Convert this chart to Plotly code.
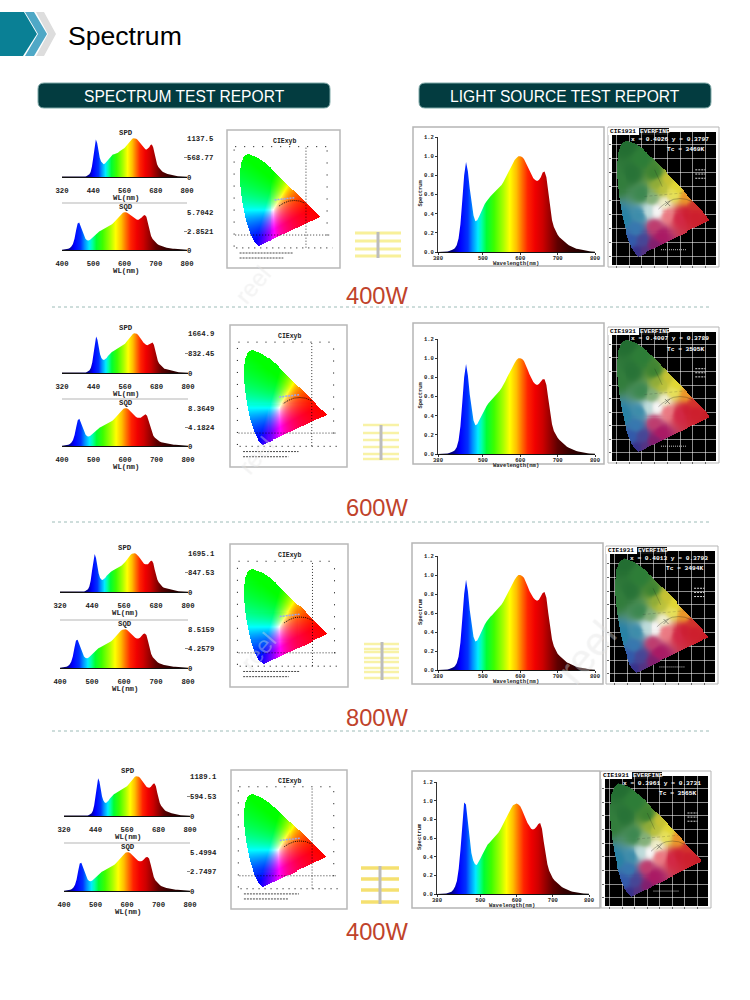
import numpy as np
import plotly.graph_objects as go

W, H = 750, 1000

# ---------- data ----------
CAPTIONS = ["400W", "600W", "800W", "400W"]
SPD_TICKS = [["1137.5", "568.77", "0"], ["1664.9", "832.45", "0"], ["1695.1", "847.53", "0"], ["1189.1", "594.53", "0"]]
SQD_TICKS = [["5.7042", "2.8521", "0"], ["8.3649", "4.1824", "0"], ["8.5159", "4.2579", "0"], ["5.4994", "2.7497", "0"]]
SPD_X_TICKS = [320, 440, 560, 680, 800]
SQD_X_TICKS = [400, 500, 600, 700, 800]
BIG_X_TICKS = [380, 500, 600, 700, 800]
BIG_Y_TICKS = [0.0, 0.2, 0.4, 0.6, 0.8, 1.0, 1.2]
XY_TEXT = ["x = 0.4026 y = 0.3797", "x = 0.4007 y = 0.3789", "x = 0.4013 y = 0.3793", "x = 0.3961 y = 0.3731"]
TC_TEXT = ["Tc = 3469K", "Tc = 3505K", "Tc = 3494K", "Tc = 3565K"]

# SPD: 320..800 nm every 5 nm, percent of the top tick
SPD1 = [1,1,1,1,1,1,.5,.5,.3,.3,.3,.3,.3,.3,
        .3,.5,.7,1,1.5,2.5,4,7,13,27,
        50,80,97,88,68,50,40,35,33,35,
        39,44,48,52,55,58,59,60,61,63,
        66,68,70,72,75,79,83,88,92,96,
        99,100,100,99,96,92,87,82,78,74,
        72,71,73,77,83,84,77,60,44,33,
        26,21,17,14,12,10,9,8,7,6,
        5,4,3.5,3,2.5,2,1.5,1.2,1,.8,
        .6,.5,.4]
SPD2 = [1,1,1,1,1,1,.5,.5,.3,.3,.3,.3,.3,.3,
        .3,.5,.7,1,1.5,2.5,4,7,13,26,
        48,76,92,84,64,47,38,34,33,35,
        38,43,47,50,53,55,57,58,60,62,
        64,66,68,71,74,78,82,87,91,95,
        98,100,100,99,96,92,87,82,77,73,
        71,70,72,74,77,77,71,57,42,31,
        24,20,16,13,11,10,9,8,7,6,
        5,4,3.5,3,2.5,2,1.5,1.2,1,.8,
        .6,.5,.4]
SPD3 = [1,1,1,1,1,1,.5,.5,.3,.3,.3,.3,.3,.3,
        .3,.5,.7,1,1.5,2.5,4,7,14,29,
        54,84,98,88,66,48,37,32,31,33,
        37,42,46,50,52,54,56,57,58,60,
        63,65,68,71,74,78,83,88,92,96,
        99,100,100,99,96,92,87,82,77,73,
        72,71,72,76,80,81,74,58,43,32,
        25,20,16,13,11,10,9,8,7,6,
        5,4,3.5,3,2.5,2,1.5,1.2,1,.8,
        .6,.5,.4]
SPD4 = [1,1,1,1,1,1,.5,.5,.3,.3,.3,.3,.3,.3,
        .3,.5,.7,1,1.5,2.5,4,7,13,27,
        50,79,95,87,67,49,39,34,33,35,
        39,44,48,52,55,57,59,60,61,63,
        65,68,70,72,75,79,83,88,92,96,
        99,100,100,99,96,92,87,82,77,73,
        72,71,73,77,81,82,75,59,44,33,
        26,21,17,14,12,10,9,8,7,6,
        5,4,3.5,3,2.5,2,1.5,1.2,1,.8,
        .6,.5,.4]

# SQD: 400..800 nm every 5 nm, percent of the top tick
SQD1 = [.5,.7,1,1.5,3,5,9,16,30,52,
        70,73,62,48,38,30,26,25,27,31,
        35,39,43,47,50,52,54,56,58,60,
        62,65,68,72,77,82,87,92,96,99,
        100,100,98,95,91,87,84,81,80,80,
        82,86,91,93,88,72,52,37,29,24,
        19,16,13,11,9,8,7,6,5,4.5,
        4,3.5,3,2.5,2,1.7,1.4,1.1,.9,.7,
        .5]
SQD2 = [.5,.7,1,1.5,3,5,9,16,29,50,
        68,72,61,47,37,30,26,25,27,31,
        35,39,43,46,49,51,53,55,57,59,
        61,64,67,71,76,81,86,91,95,99,
        100,100,98,94,89,84,80,77,75,74,
        75,78,82,84,80,66,48,35,27,22,
        18,15,12,10,9,8,7,6,5,4.5,
        4,3.5,3,2.5,2,1.7,1.4,1.1,.9,.7,
        .5]
SQD3 = [.5,.7,1,1.5,3,5,9,16,30,52,
        71,73,62,47,37,30,26,25,27,31,
        36,40,44,48,51,53,55,57,59,61,
        63,66,69,73,78,83,88,92,96,99,
        100,100,98,94,89,85,81,78,76,76,
        78,83,88,89,85,70,50,36,28,23,
        18,15,12,10,9,8,7,6,5,4.5,
        4,3.5,3,2.5,2,1.7,1.4,1.1,.9,.7,
        .5]
SQD4 = [.5,.7,1,1.5,3,5,9,16,30,52,
        71,73,62,48,38,30,26,25,27,31,
        35,39,43,47,50,52,54,56,58,60,
        62,65,68,72,77,82,87,92,96,99,
        100,100,98,94,90,85,81,78,77,77,
        79,83,87,88,84,69,50,36,28,23,
        18,15,12,10,9,8,7,6,5,4.5,
        4,3.5,3,2.5,2,1.7,1.4,1.1,.9,.7,
        .5]

# big spectrum: 380..800 nm every 5 nm
BIG1 = [0,0,0,0,.002,.005,.01,.015,.025,.04,
        .07,.14,.29,.54,.8,.94,.84,.66,.5,.38,
        .32,.33,.37,.42,.46,.5,.53,.56,.58,.6,
        .62,.63,.65,.67,.7,.73,.77,.81,.85,.89,
        .93,.96,.98,1,1,.99,.97,.93,.88,.84,
        .8,.77,.75,.74,.75,.78,.83,.84,.78,.62,
        .45,.33,.26,.21,.18,.155,.135,.115,.1,.085,
        .07,.06,.05,.04,.035,.03,.025,.02,.015,.012,
        .01,.008,.006,.004,.002]
BIG2 = [0,0,0,0,.002,.005,.01,.015,.025,.04,
        .07,.14,.29,.54,.8,.94,.82,.62,.46,.35,
        .3,.31,.35,.39,.43,.47,.5,.53,.55,.57,
        .59,.61,.63,.66,.69,.72,.76,.8,.84,.88,
        .92,.95,.98,1,1,.99,.97,.93,.88,.83,
        .78,.75,.73,.72,.73,.75,.78,.78,.72,.58,
        .42,.31,.24,.2,.17,.145,.125,.105,.09,.075,
        .065,.055,.045,.04,.03,.025,.02,.015,.012,.01,
        .008,.006,.004,.003,.002]
BIG3 = [0,0,0,0,.002,.005,.01,.015,.025,.04,
        .07,.14,.29,.54,.8,.95,.83,.63,.46,.35,
        .3,.31,.35,.4,.44,.48,.51,.54,.56,.58,
        .6,.62,.64,.66,.69,.72,.76,.8,.84,.88,
        .92,.95,.98,1,1,.99,.97,.93,.88,.83,
        .79,.76,.74,.73,.74,.77,.81,.82,.76,.6,
        .43,.32,.25,.2,.17,.15,.13,.11,.095,.08,
        .07,.06,.05,.04,.035,.03,.025,.02,.015,.012,
        .01,.008,.006,.004,.002]
BIG4 = [0,0,0,0,.002,.005,.01,.015,.025,.045,
        .08,.14,.27,.48,.76,.98,.96,.78,.58,.44,
        .36,.32,.31,.34,.38,.42,.46,.5,.53,.55,
        .57,.59,.61,.63,.66,.69,.73,.77,.81,.85,
        .89,.92,.95,.96,.97,.96,.94,.9,.85,.8,
        .76,.73,.7,.69,.7,.72,.75,.76,.7,.56,
        .42,.32,.25,.2,.17,.145,.125,.105,.09,.075,
        .065,.055,.045,.04,.03,.025,.02,.015,.012,.01,
        .008,.006,.004,.003,.002]

# CIE 1931 spectral locus
LOCUS_X = [.1741,.1714,.1689,.1644,.1566,.1440,.1241,.0913,.0687,.0454,.0235,.0082,.0039,.0139,.0389,.0743,.1547,.2296,.3016,.3731,.4441,.5125,.5752,.6270,.6658,.6915,.7079,.7190,.7260,.7347]
LOCUS_Y = [.0050,.0051,.0069,.0109,.0177,.0297,.0578,.1327,.2007,.2950,.4127,.5384,.6548,.7502,.8120,.8338,.8059,.7543,.6923,.6245,.5547,.4866,.4242,.3725,.3340,.3083,.2920,.2809,.2740,.2653]
PLANCK_X = [.33,.36,.40,.45,.50,.55,.60]
PLANCK_Y = [.34,.365,.39,.41,.415,.41,.39]
MEASURED_X = [.4026, .4007, .4013, .3961]
MEASURED_Y = [.3797, .3789, .3793, .3731]

# colours of the dark diagram, sampled at chromaticity points
TONE_X = [.08,.20,.02,.30,.33,.36,.40,.45,.47,.55,.62,.72,.50,.55,.62,.35,.30,.22,.20,.16,.12,.06,.18,.32,.38,.28,.25,.40,.30,.20,.12,.15]
TONE_Y = [.80,.70,.55,.60,.52,.50,.55,.45,.50,.43,.36,.27,.28,.30,.30,.15,.08,.03,.12,.03,.12,.27,.30,.33,.38,.42,.33,.30,.22,.45,.60,.20]
TONE_R = [35,45,50,60,140,190,200,230,225,235,210,200,210,205,205,170,130,85,70,55,50,40,60,248,240,130,190,235,190,60,40,55]
TONE_G = [110,125,125,130,170,195,195,225,215,150,50,30,40,30,30,25,30,50,70,50,90,130,140,248,240,175,220,120,60,135,115,120]
TONE_B = [50,55,60,50,55,60,50,90,50,40,45,40,70,50,45,100,110,130,150,140,170,165,170,248,205,120,220,130,110,80,55,175]

# spectrum colour stops (style)
STOP_NM = [320,380,400,420,440,460,472,487,497,510,530,555,572,590,605,620,640,660,680,700,730,800]
STOP_R = [10,10,5,0,0,0,0,0,0,0,60,170,255,255,255,255,240,205,150,95,55,15]
STOP_G = [0,0,0,0,0,50,140,235,255,255,255,255,255,190,110,35,0,0,0,0,0,0]
STOP_B = [30,50,90,130,255,255,255,255,170,50,0,0,0,0,0,0,0,0,0,0,0,0]

# ---------- geometry (pixels) ----------
SMALL = [dict(x0=62, x1=187, spd=(138, 177), sep=203, sqd=(212, 250)),
         dict(x0=62, x1=188, spd=(333, 373), sep=399, sqd=(408, 446)),
         dict(x0=60, x1=188, spd=(553, 592), sep=620, sqd=(629, 668)),
         dict(x0=64, x1=190, spd=(776, 816), sep=843, sqd=(852, 891))]
BIG_FRAME = [(413, 127, 604, 266), (413, 323, 604, 464), (412, 543, 603, 684), (412, 771, 600, 908)]
BIG_PLOT = [(438, 595, 137, 252), (438, 595, 339, 454), (438, 595, 556, 670), (437, 589, 782, 894)]
CIE_FRAME = [(227, 130, 340, 268), (230, 325, 347, 467), (230, 544, 348, 687), (231, 770, 347, 909)]
DARK_FRAME = [(608, 127, 719, 267), (608, 327, 719, 463), (606, 546, 718, 684), (601, 771, 711, 908)]
CAPTION_Y = [296, 508, 718, 932]
DIVIDER_Y = [307, 522, 731]
LAMPS = [dict(x=(355, 401), y=[233, 241, 249, 256], h=3, c="#f8f09a", bar=(378, 232, 258)),
         dict(x=(363, 399), y=[425, 433, 440, 447, 454, 459], h=2.5, c="#f8f2a6", bar=(381, 425, 460)),
         dict(x=(364, 399), y=[644, 649, 652, 658, 662, 668, 672, 678], h=2.5, c="#f8f2a6", bar=(382, 642, 680)),
         dict(x=(361, 399), y=[868, 879, 890, 902], h=3.5, c="#f5e070", bar=(380, 866, 904))]


def fx(p):
    return p / W


def fy(p):
    return 1 - p / H


shapes, annos = [], []
layout_axes = {}
traces = []
axis_n = 0


def new_axes(x0, x1, ytop, ybot, xkw, ykw):
    global axis_n
    axis_n += 1
    n = axis_n
    sfx = "" if n == 1 else str(n)
    base = dict(showgrid=False, zeroline=False, showline=False, ticks="", showticklabels=False, automargin=False)
    layout_axes["xaxis" + sfx] = {**base, "domain": [fx(x0), fx(x1)], "anchor": "y" + sfx, **xkw}
    layout_axes["yaxis" + sfx] = {**base, "domain": [fy(ybot), fy(ytop)], "anchor": "x" + sfx, "scaleanchor": False, **ykw}
    return "x" + sfx, "y" + sfx


def text(x, y, s, size, color="#000", family="Liberation Mono", bold=False, angle=0, xanchor="center"):
    annos.append(dict(xref="paper", yref="paper", x=fx(x), y=fy(y), text=f"<b>{s}</b>" if bold else s,
                      showarrow=False, xanchor=xanchor, yanchor="middle", textangle=angle,
                      font=dict(size=size, color=color, family=family), borderpad=0))


def rect(x0, y0, x1, y1, fill=None, line=None, lw=0):
    shapes.append(dict(type="rect", xref="paper", yref="paper", x0=fx(x0), x1=fx(x1), y0=fy(y0), y1=fy(y1),
                       fillcolor=fill or "rgba(0,0,0,0)", line=dict(color=line or "rgba(0,0,0,0)", width=lw), layer="below"))


def poly(pts, fill):
    d = "M" + " L".join(f"{fx(a):.5f},{fy(b):.5f}" for a, b in pts) + " Z"
    shapes.append(dict(type="path", xref="paper", yref="paper", path=d, fillcolor=fill, line=dict(width=0), layer="below"))


def spectrum_scale(start):
    span = 800 - start
    out = []
    for nm, r, g, b in zip(STOP_NM, STOP_R, STOP_G, STOP_B):
        if nm >= start:
            out.append([(nm - start) / span, f"rgb({r},{g},{b})"])
    return out


def inside_locus(xx, yy):
    px, py = np.array(LOCUS_X), np.array(LOCUS_Y)
    qx, qy = np.roll(px, 1), np.roll(py, 1)
    res = np.zeros(xx.shape, bool)
    for a, b, c, d in zip(px, py, qx, qy):
        cross = ((b > yy) != (d > yy)) & (xx < (c - a) * (yy - b) / (d - b + 1e-12) + a)
        res ^= cross
    return res


def bright_rgb(xx, yy):
    yy2 = np.maximum(yy, 1e-3)
    X, Z = xx / yy2, (1 - xx - yy2) / yy2
    r = 3.2406 * X - 1.5372 - .4986 * Z
    g = -.9689 * X + 1.8758 + .0415 * Z
    b = .0557 * X - .2040 + 1.0570 * Z
    rgb = np.clip(np.stack([r, g, b], -1), 0, None)
    rgb = rgb / np.maximum(rgb.max(-1, keepdims=True), 1e-6)
    return 255 * rgb


def dark_rgb(xx, yy):
    d2 = (xx[..., None] - np.array(TONE_X)) ** 2 + (yy[..., None] - np.array(TONE_Y)) ** 2
    w = 1 / (d2 + 1e-3) ** 2.2
    w = w / w.sum(-1, keepdims=True)
    cols = np.stack([TONE_R, TONE_G, TONE_B], -1).astype(float)
    return w @ cols


def gamut_image(fn, step):
    xs = np.arange(0, .74, step)
    ys = np.arange(0, .84, step)
    xx, yy = np.meshgrid(xs, ys)
    rgb = np.round(fn(xx, yy))
    alpha = inside_locus(xx, yy).astype(float)
    z = np.concatenate([rgb, alpha[..., None]], -1)
    return go.Image(z=z.tolist(), colormodel="rgba", x0=0, y0=0, dx=step, dy=step, hoverinfo="skip")


def line_tr(xa, ya, xs, ys, color, width=1, dash="solid", mode="lines", **kw):
    traces.append(go.Scatter(x=xs, y=ys, xaxis=xa, yaxis=ya, mode=mode, hoverinfo="skip",
                             line=dict(color=color, width=width, dash=dash), **kw))


def spectrum_panel(x0, x1, ytop, ybot, start, values, yrange, xticks, yticks, yticktext, xfont, yfont, standoff, right=True):
    wl = list(range(start, 805, 5))
    assert len(wl) == len(values), (start, len(values))
    ykw = dict(range=yrange, tickvals=yticks, ticktext=yticktext, showticklabels=True,
               ticks="outside", ticklen=3, tickwidth=1, tickfont=dict(family="Liberation Mono", size=yfont, color="#222", weight="bold"))
    if right:
        ykw.update(side="right", tickcolor="#888", ticks="inside", ticklabelstandoff=-1)
    else:
        ykw.update(showline=True, linecolor="#333", linewidth=1, tickcolor="#333", ticklen=2)
    xkw = dict(range=[start, 800], tickvals=xticks, ticktext=[str(t) for t in xticks], showticklabels=True,
               showline=True, linecolor="#111", linewidth=1,
               ticks="" if right else "outside", ticklen=2, tickcolor="#333", tickangle=0,
               ticklabelstandoff=standoff, tickfont=dict(family="Liberation Mono", size=xfont, color="#222", weight="bold"))
    xa, ya = new_axes(x0, x1, ytop, ybot, xkw, ykw)
    traces.append(go.Scatter(x=wl, y=values, xaxis=xa, yaxis=ya, mode="lines", line=dict(width=0), fill="tozeroy",
                             fillgradient=dict(type="horizontal", colorscale=spectrum_scale(start), start=start, stop=800),
                             hoverinfo="skip"))


# ---------- header ----------
poly([(0, 12), (24, 12), (37, 34), (23, 56), (0, 56)], "#0a8095")
poly([(25, 12), (34, 12), (47, 34), (34, 56), (25, 56), (38, 34)], "#4fa8c6")
poly([(36, 12), (44, 12), (56, 34), (44, 56), (36, 56), (48, 34)], "#dddddd")
text(66.5, 36, "Spectrum", 26.6, "#000", "Liberation Sans", xanchor="left")


def pill(x0, x1, y0, y1, label):
    r = 6
    d = (f"M{fx(x0+r)},{fy(y0)} L{fx(x1-r)},{fy(y0)} Q{fx(x1)},{fy(y0)} {fx(x1)},{fy(y0+r)} "
         f"L{fx(x1)},{fy(y1-r)} Q{fx(x1)},{fy(y1)} {fx(x1-r)},{fy(y1)} L{fx(x0+r)},{fy(y1)} "
         f"Q{fx(x0)},{fy(y1)} {fx(x0)},{fy(y1-r)} L{fx(x0)},{fy(y0+r)} Q{fx(x0)},{fy(y0)} {fx(x0+r)},{fy(y0)} Z")
    shapes.append(dict(type="path", xref="paper", yref="paper", path=d, fillcolor="#033c40",
                       line=dict(color="#7fa9a8", width=1), layer="below"))
    text((x0 + x1) / 2, (y0 + y1) / 2 + 1.5, label, 15.6, "#fff", "Liberation Sans")


pill(38, 330, 83, 108, "SPECTRUM TEST REPORT")
pill(419, 711, 83, 108, "LIGHT SOURCE TEST REPORT")

SPD_ROWS = [SPD1, SPD2, SPD3, SPD4]
SQD_ROWS = [SQD1, SQD2, SQD3, SQD4]
BIG_ROWS = [BIG1, BIG2, BIG3, BIG4]

bright = gamut_image(bright_rgb, .009)
dark = gamut_image(dark_rgb, .0075)

for i in range(4):
    s = SMALL[i]
    cx = (s["x0"] + s["x1"]) / 2
    # SPD and SQD
    for name, (ytop, ybot), start, vals, xt, yt in (("SPD", s["spd"], 320, SPD_ROWS[i], SPD_X_TICKS, SPD_TICKS[i]),
                                                     ("SQD", s["sqd"], 400, SQD_ROWS[i], SQD_X_TICKS, SQD_TICKS[i])):
        spectrum_panel(s["x0"], s["x1"], ytop, ybot, start, vals, [0, 100.8], xt, [100, 50, 0], yt, 7.3, 7.3, 6)
        text(cx + 1, ytop - 5, name, 7.3, "#222", bold=True)
        text(cx + 1, ybot + 21, "WL(nm)", 7.3, "#222", bold=True)
    shapes.append(dict(type="line", xref="paper", yref="paper", x0=fx(s["x0"]), x1=fx(s["x1"]), y0=fy(s["sep"]), y1=fy(s["sep"]),
                       line=dict(color="#b5b5b5", width=1), layer="below"))

    # bright CIE diagram
    fx0, fy0, fx1, fy1 = CIE_FRAME[i]
    rect(fx0, fy0, fx1, fy1, "#fff", "#b8b8b8", 1.5)
    xa, ya = new_axes(fx0, fx1, fy0, fy1, dict(range=[-.115, .918]), dict(range=[-.193, 1.05]))
    img = go.Image(bright)
    img.update(xaxis=xa, yaxis=ya)
    traces.append(img)
    line_tr(xa, ya, [-.04, .82], [.104, .104], "#000", .8, "1px,2px")
    line_tr(xa, ya, [.607, .607], [-.01, .9], "#000", .8, "1px,2px")
    line_tr(xa, ya, [-.04, .82], [.9, .9], "#000", 1, "1px,8px")
    line_tr(xa, ya, [-.05, -.05], [0, .9], "#000", 1, "1px,11px")
    line_tr(xa, ya, [.8, .8], [.1, .9], "#000", 1, "1px,11px")
    line_tr(xa, ya, [-.03, .85], [-.012, -.012], "#000", 1, "1px,5px")
    line_tr(xa, ya, [.0, .49], [-.058, -.058], "#333", .9, "2px,1px")
    line_tr(xa, ya, [.0, .40], [-.103, -.103], "#333", .9, "2px,1px")
    line_tr(xa, ya, PLANCK_X[1:], PLANCK_Y[1:], "#000", .9, "1px,1px")
    line_tr(xa, ya, [.32, .5], [.42, .44], "#9aa8f0", 1.5, "2px,1px")
    text((fx0 + fx1) / 2 + 1, fy0 + 11, "CIExyb", 6.5, "#222", bold=True)

    # lamp strips
    lamp = LAMPS[i]
    for ly in lamp["y"]:
        rect(lamp["x"][0], ly - lamp["h"] / 2, lamp["x"][1], ly + lamp["h"] / 2, lamp["c"])
    rect(lamp["bar"][0] - 1.5, lamp["bar"][1], lamp["bar"][0] + 1.5, lamp["bar"][2], "#bcbcbc")

    # big spectrum
    bx0, by0, bx1, by1 = BIG_FRAME[i]
    rect(bx0, by0, bx1, by1, "#fff", "#b5b5b5", 1.5)
    px0, px1, pt, pb = BIG_PLOT[i]
    spectrum_panel(px0, px1, pt, pb, 380, BIG_ROWS[i], [0, 1.2], BIG_X_TICKS, BIG_Y_TICKS, [f"{v:.1f}" for v in BIG_Y_TICKS], 5.5, 5.5, -2, right=False)
    text((px0 + px1) / 2 - 1, pb + 11, "Wavelength(nm)", 5.5, "#222", bold=True)
    text(px0 - 18, (pt + pb) / 2 - 1, "Spectrum", 5.5, "#222", bold=True, angle=-90)

    # dark CIE diagram
    dx0, dy0, dx1, dy1 = DARK_FRAME[i]
    rect(dx0, dy0, dx1, dy1, "#fff", "#b5b5b5", 1)
    rect(dx0 + 4, dy0 + 5, dx1 - 3, dy1 - 2, "#000")
    grid = dict(showgrid=True, gridcolor="rgba(255,255,255,.55)", gridwidth=.6, tick0=0, dtick=.1, ticks="outside", ticklen=2, tickcolor="#666")
    xa, ya = new_axes(dx0 + 4, dx1 - 3, dy0 + 5, dy1 - 2, dict(range=[-.0355, .783], **grid), dict(range=[-.059, .89], **grid))
    img = go.Image(dark)
    img.update(xaxis=xa, yaxis=ya)
    traces.append(img)
    line_tr(xa, ya, PLANCK_X, PLANCK_Y, "rgba(30,30,30,.5)", .6)
    line_tr(xa, ya, [.22, .58], [.43, .46], "rgba(30,30,30,.35)", .5, "3px,2px")
    line_tr(xa, ya, [.30, .36], [.62, .50], "rgba(20,20,20,.4)", .5)
    line_tr(xa, ya, [.62, .70], [.62, .62], "#ddd", 1, "2px,1px")
    line_tr(xa, ya, [.62, .70], [.59, .59], "#ddd", 1, "2px,1px")
    line_tr(xa, ya, [.62, .70], [.56, .56], "#ddd", 1, "2px,1px")
    line_tr(xa, ya, [.35, .55], [.05, .05], "#ccc", 1, "1px,1px")
    traces.append(go.Scatter(x=[MEASURED_X[i]], y=[MEASURED_Y[i]], xaxis=xa, yaxis=ya, mode="markers", hoverinfo="skip",
                             marker=dict(symbol="x-thin", size=5, line=dict(color="rgba(30,30,30,.7)", width=.6))))
    rect(dx0, dy0 + 1, dx0 + 61, dy0 + 8, "#fff")
    rect(dx0 + 31, dy0 + 1, dx0 + 61, dy0 + 8, "#111")
    text(dx0 + 1, dy0 + 4.5, "CIE1931", 6.2, "#000", bold=True, xanchor="left")
    text(dx0 + 31, dy0 + 4.5, "EVERFINE", 6.2, "#fff", bold=True, xanchor="left")
    text(dx1 - 9, dy0 + 12, XY_TEXT[i], 6.2, "#fff", bold=True, xanchor="right")
    text(dx1 - 14, dy0 + 22, TC_TEXT[i], 6.2, "#fff", bold=True, xanchor="right")

    # caption
    text(377, CAPTION_Y[i], CAPTIONS[i], 23.7, "#c0432b", "Liberation Sans")

for y in DIVIDER_Y:
    shapes.append(dict(type="line", xref="paper", yref="paper", x0=fx(52), x1=fx(712), y0=fy(y), y1=fy(y),
                       line=dict(color="#9dbcb8", width=1, dash="dot"), layer="below"))

# watermark
for wx, wy, wsize in ((253, 258, 24), (256, 455, 24), (258, 678, 24), (628, 652, 40)):
    annos.append(dict(xref="paper", yref="paper", x=fx(wx), y=fy(wy), text="reel", showarrow=False, textangle=-50,
                      font=dict(size=wsize, color="rgba(255,255,255,.3)", family="Liberation Sans", shadow="0 0 1px rgba(140,140,140,.45)")))

fig = go.Figure(data=traces)
fig.update_layout(width=W, height=H, margin=dict(l=0, r=0, t=0, b=0, pad=0, autoexpand=False), autosize=False, showlegend=False,
                  paper_bgcolor="#fff", plot_bgcolor="rgba(0,0,0,0)", shapes=shapes, annotations=annos, **layout_axes)
fig.write_html("out.html", config={"displayModeBar": False},
               post_script="document.body.style.margin='0';document.body.style.overflow='hidden';")
